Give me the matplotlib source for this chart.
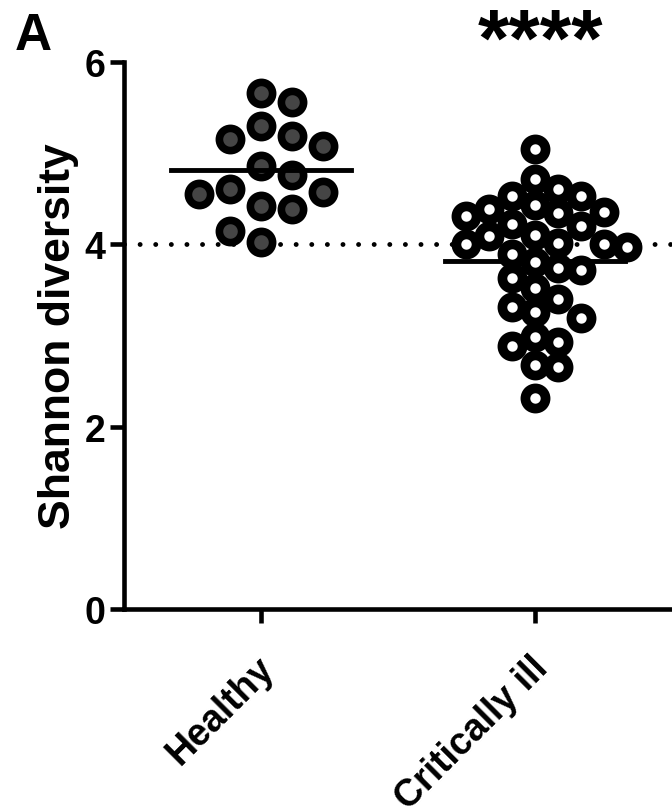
import numpy as np
import matplotlib.pyplot as plt
import matplotlib.transforms as mtransforms

# Shannon diversity per subject
groups = ["Healthy", "Critically ill"]
healthy = [5.66, 5.56, 5.30, 5.19, 5.16, 5.08, 4.86, 4.76, 4.61, 4.57,
           4.55, 4.42, 4.39, 4.15, 4.03]
critically_ill = [5.05, 4.72, 4.61, 4.53, 4.53, 4.43, 4.39, 4.34, 4.31, 4.36,
                  4.22, 4.20, 4.10, 4.09, 4.01, 4.00, 3.97, 4.00, 3.81, 3.89,
                  3.72, 3.74, 3.63, 3.52, 3.31, 3.19, 3.26, 3.40, 2.98, 2.88,
                  2.93, 2.65, 2.68, 2.31]
y_ticks = [0, 2, 4, 6]
threshold = 4.0
signif = "****"

plt.rcParams['font.family'] = ['Liberation Sans', 'DejaVu Sans']
plt.rcParams['font.weight'] = 'bold'
plt.rcParams['axes.labelweight'] = 'bold'

fig = plt.figure(figsize=(6.72, 8.12), dpi=100)
ax = fig.add_axes([124 / 672, 1 - 610 / 812, 1 - 124 / 672, (610 - 63) / 812])
ax.set_xlim(0.5, 2.5)
ax.set_ylim(0, 6)


def swarm(values, d_px):
    # simple beeswarm layout, done in pixels
    bbox = ax.get_window_extent()
    sx = bbox.width / 2.0
    sy = bbox.height / 6.0
    values = np.asarray(values)
    order = np.argsort(-values, kind="stable")
    cands = [0.0]
    for k in range(1, 40):
        cands += [k * d_px / 2, -k * d_px / 2]
    placed = []
    offs = np.zeros(len(values))
    for i in order:
        y = values[i] * sy
        for c in cands:
            if all((c - px) ** 2 + (y - py) ** 2 >= d_px ** 2 for px, py in placed):
                break
        placed.append((c, y))
        offs[i] = c / sx
    return offs


# dotted reference line
ax.plot([0.5, 2.5], [threshold, threshold], color="black", lw=3.5,
        ls=(0, (0.01, 3.2)), dash_capstyle="round", zorder=1)

# healthy: filled grey dots, mean line on top
xh = 1 + swarm(healthy, 31)
ax.plot(xh, healthy, "o", ms=16, mfc="#454545", mec="black", mew=5.5, zorder=3)
ax.plot([1 - 0.33, 1 + 0.33], [np.mean(healthy)] * 2, color="black", lw=3.5, zorder=4)

# critically ill: open circles
xc = 2 + swarm(critically_ill, 23)
ax.plot([2 - 0.33, 2 + 0.33], [np.mean(critically_ill)] * 2, color="black", lw=3.5, zorder=2)
ax.plot(xc, critically_ill, "o", ms=14.5, mfc="white", mec="black", mew=7, zorder=3)

for s in ["top", "right"]:
    ax.spines[s].set_visible(False)
for s in ["left", "bottom"]:
    ax.spines[s].set_linewidth(3.3)

ax.set_yticks(y_ticks)
ax.set_xticks([1, 2])
ax.set_xticklabels(groups, rotation=45, ha="right", rotation_mode="anchor", fontsize=33)
ax.tick_params(width=3.3, length=10, labelsize=27)
ax.tick_params(axis="x", pad=19)
shift = mtransforms.ScaledTranslation(-0.05, 0, fig.dpi_scale_trans)
for lab in ax.get_xticklabels():
    lab.set_transform(lab.get_transform() + shift)
ax.set_ylabel("Shannon diversity", fontsize=32)
ax.yaxis.set_label_coords(-0.082, 0.5)

fig.text(0.022, 1 - 50 / 812, "A", fontsize=37, ha="left", va="baseline")
fig.text(540 / 672, 1 - 66 / 812, signif, fontsize=58, ha="center", va="baseline")

fig.savefig("out.png", dpi=100)
